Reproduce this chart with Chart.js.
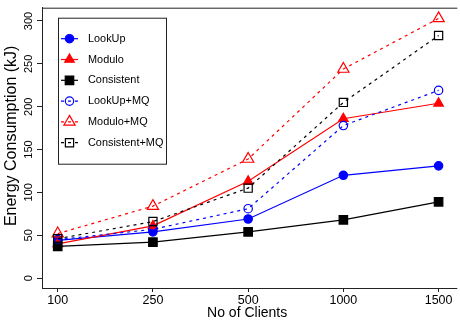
<!DOCTYPE html>
<html>
<head>
<meta charset="utf-8">
<script src="https://cdn.jsdelivr.net/npm/chart.js@4/dist/chart.umd.min.js"></script>
<style>
  html, body { margin: 0; padding: 0; background: #ffffff; }
  #wrap { width: 460px; height: 325px; }
</style>
</head>
<body>
<div id="wrap"><canvas id="c" width="460" height="325"></canvas></div>
<script>
// Number of clients (x categories) and y-axis tick values
const clients = ['100', '250', '500', '1000', '1500'];
const energyTicks = [0, 50, 100, 150, 200, 250, 300];
const yTitle = 'Energy Consumption (kJ)';
const xTitle = 'No of Clients';

// Energy consumption (kJ) per strategy
const lookUp       = [44, 54, 69, 120, 131];
const modulo       = [40, 61, 113, 186, 204];
const consistent   = [37, 42, 54, 68, 89];
const lookUpMQ     = [45, 57, 81, 178, 219];
const moduloMQ     = [52, 84, 139, 244, 303];
const consistentMQ = [46, 66, 105, 205, 283];

const BLUE = '#0000ff', RED = '#ff0000', BLACK = '#000000';
const DASH = [3, 4];
const FONT = "'Liberation Sans', Arial, Helvetica, sans-serif";

function series(label, values, color, style, filled, radius, dash) {
  return {
    label,
    data: values.map((v, i) => ({ x: i, y: v })),
    borderColor: color,
    backgroundColor: color,
    borderWidth: 1.2,
    borderDash: dash,
    pointStyle: style,
    pointRadius: radius,
    pointHoverRadius: radius,
    pointBorderWidth: 1.2,
    pointBorderColor: color,
    pointBackgroundColor: filled ? color : 'rgba(0,0,0,0)',
    tension: 0,
    fill: false
  };
}

const datasets = [
  series('LookUp',        lookUp,       BLUE,  'circle',   true,  4.2, []),
  series('Modulo',        modulo,       RED,   'triangle', true,  5.5, []),
  series('Consistent',    consistent,   BLACK, 'rect',     true,  6,   []),
  series('LookUp+MQ',     lookUpMQ,     BLUE,  'circle',   false, 4.2, DASH),
  series('Modulo+MQ',     moduloMQ,     RED,   'triangle', false, 6.5, DASH),
  series('Consistent+MQ', consistentMQ, BLACK, 'rect',     false, 5.8, DASH)
];
// later series are painted on top of earlier ones
datasets.forEach((d, i) => { d.order = datasets.length - i; });

// Framed plot region (open on the right edge of the canvas) and the y-axis title
const frame = {
  id: 'frame',
  afterDraw(chart) {
    const a = chart.chartArea, ctx = chart.ctx;
    ctx.save();
    ctx.strokeStyle = '#222';
    ctx.lineWidth = 1;
    ctx.beginPath();
    ctx.moveTo(a.right + 5, a.top + 0.5);
    ctx.lineTo(a.left + 0.5, a.top + 0.5);
    ctx.lineTo(a.left + 0.5, a.bottom + 0.5);
    ctx.lineTo(a.right + 5, a.bottom + 0.5);
    ctx.stroke();

    ctx.translate(12, a.top + a.height / 2 - 12);
    ctx.rotate(-Math.PI / 2);
    ctx.fillStyle = '#000';
    ctx.font = '16px ' + FONT;
    ctx.textAlign = 'center';
    ctx.textBaseline = 'middle';
    ctx.fillText(yTitle, 0, 0);
    ctx.restore();
  }
};

// Boxed legend in the upper-left corner of the plot
const boxLegend = {
  id: 'boxLegend',
  afterDraw(chart) {
    const a = chart.chartArea, ctx = chart.ctx;
    const bx = a.left + 16, by = a.top + 10, bw = 108, bh = 146;
    const rowTop = by + 21, rowGap = 20.8;
    ctx.save();
    ctx.strokeStyle = '#222';
    ctx.lineWidth = 1;
    ctx.setLineDash([]);
    ctx.strokeRect(bx + 0.5, by + 0.5, bw, bh);
    ctx.font = '10.9px ' + FONT;
    ctx.textBaseline = 'middle';
    ctx.textAlign = 'left';
    chart.data.datasets.forEach((d, i) => {
      const y = rowTop + i * rowGap;
      ctx.strokeStyle = d.borderColor;
      ctx.lineWidth = d.borderWidth;
      ctx.setLineDash(d.borderDash || []);
      ctx.beginPath();
      ctx.moveTo(bx + 3, y);
      ctx.lineTo(bx + 20, y);
      ctx.stroke();
      ctx.setLineDash([]);
      ctx.fillStyle = d.pointBackgroundColor;
      ctx.strokeStyle = d.pointBorderColor;
      ctx.lineWidth = d.pointBorderWidth;
      Chart.helpers.drawPoint(ctx, {
        pointStyle: d.pointStyle,
        rotation: 0,
        radius: d.pointRadius,
        borderWidth: d.pointBorderWidth
      }, bx + 11.5, y);
      ctx.fillStyle = '#000';
      ctx.fillText(d.label, bx + 30, y);
    });
    ctx.restore();
  }
};

new Chart(document.getElementById('c'), {
  type: 'line',
  data: { datasets },
  plugins: [frame, boxLegend],
  options: {
    responsive: false,
    animation: false,
    devicePixelRatio: 1,
    layout: { padding: { top: 3, right: 0, left: 0, bottom: 0 } },
    plugins: { legend: { display: false }, tooltip: { enabled: false } },
    scales: {
      x: {
        type: 'linear',
        min: -0.165,
        max: 4.144,
        afterBuildTicks: s => { s.ticks = clients.map((c, i) => ({ value: i })); },
        afterFit: s => { s.height = 37; },
        grid: { display: true, drawOnChartArea: false, drawTicks: true, tickLength: 4, color: '#222', lineWidth: 1 },
        border: { display: true, color: '#222', width: 1 },
        ticks: {
          callback: v => clients[v],
          color: '#000',
          font: { family: FONT, size: 12.5 },
          padding: 1.5,
          maxRotation: 0,
          autoSkip: false
        },
        title: {
          display: true,
          text: xTitle,
          color: '#000',
          font: { family: FONT, size: 14 },
          padding: { top: 0, bottom: 3 }
        }
      },
      y: {
        type: 'linear',
        min: -11.5,
        max: 315.5,
        afterBuildTicks: s => { s.ticks = energyTicks.map(v => ({ value: v })); },
        afterFit: s => { s.width = 42; },
        grid: { display: true, drawOnChartArea: false, drawTicks: true, tickLength: 5, color: '#222', lineWidth: 1 },
        border: { display: true, color: '#222', width: 1 },
        ticks: {
          color: '#000',
          font: { family: FONT, size: 11 },
          minRotation: 90,
          maxRotation: 90,
          crossAlign: 'center',
          padding: -1,
          autoSkip: false
        },
        title: { display: false }
      }
    }
  }
});
</script>
</body>
</html>
